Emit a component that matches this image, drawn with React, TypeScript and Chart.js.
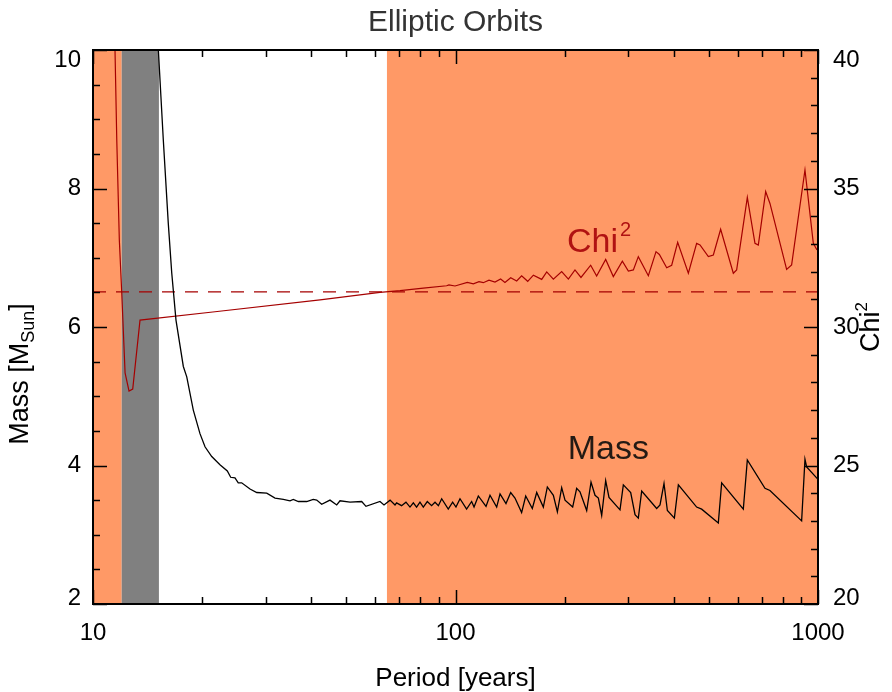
import React, { useEffect, useRef } from "react";
import { Chart, registerables } from "chart.js";

Chart.register(...registerables);

const FONT = "'Liberation Sans', Arial, Helvetica, sans-serif";

// ---------------- data ----------------
const massPeriods = [
  15.0, 15.63, 16.13, 16.49, 16.94, 17.75, 18.14, 18.91, 19.73, 20.37, 21.26, 22.40, 23.47, 23.98, 24.64, 25.16, 25.71,
  27.11, 28.29, 30.15, 31.78, 33.50, 34.95, 35.69, 36.85, 38.86, 40.52, 41.41, 42.74, 45.06, 47.02, 48.02, 51.17, 55.11,
  56.63, 61.9, 63.5, 66.0, 68.1, 68.8, 71.0, 73.0, 74.9, 76.5, 78.1, 79.8, 81.5, 83.6, 85.9, 87.8, 89.7, 91.6, 95.5, 98.2,
  100.3, 102.9, 107.3, 110.8, 112.5, 115.6, 121.4, 124.5, 129.9, 132.7, 137.8, 142.0, 145.9, 152.2, 156.2, 162.9, 167.5,
  174.7, 179.2, 186.2, 191.0, 196.3, 200.5, 210.5, 215.9, 220.5, 230.1, 236.5, 242.6, 247.8, 253.1, 259.6, 265.1, 284.3,
  290.4, 304.3, 312.8, 319.4, 326.3, 358.9, 366.6, 376.0, 384.1, 401.6, 411.9, 462.6, 477.6, 530.9, 542.3, 622.3, 638.3,
  714.0, 737.0, 901.3, 920.6, 930.4, 1000,
];
const massValues = [
  10.4, 8.70, 7.50, 6.78, 6.10, 5.43, 5.28, 4.80, 4.46, 4.27, 4.13, 4.01, 3.92, 3.83, 3.82, 3.75, 3.75,
  3.66, 3.61, 3.60, 3.53, 3.51, 3.49, 3.51, 3.48, 3.48, 3.51, 3.50, 3.44, 3.50, 3.43, 3.49, 3.47, 3.48,
  3.41, 3.48, 3.43, 3.50, 3.43, 3.46, 3.42, 3.47, 3.40, 3.46, 3.40, 3.47, 3.40, 3.48, 3.42, 3.47, 3.42, 3.52, 3.37, 3.47,
  3.40, 3.52, 3.37, 3.48, 3.40, 3.56, 3.41, 3.57, 3.40, 3.59, 3.45, 3.61, 3.53, 3.32, 3.56, 3.38, 3.61,
  3.40, 3.69, 3.57, 3.33, 3.68, 3.50, 3.40, 3.67, 3.62, 3.35, 3.76, 3.57, 3.53, 3.28, 3.78, 3.54, 3.36,
  3.72, 3.61, 3.29, 3.24, 3.63, 3.38, 3.43, 3.74, 3.35, 3.24, 3.72, 3.40, 3.37, 3.17, 3.75, 3.37, 4.08,
  3.67, 3.64, 3.20, 4.09, 3.98, 3.80,
];

const chiPeriods = [
  11.3, 11.50, 11.63, 11.82, 12.00, 12.26, 12.57, 12.87, 13.48, 21.7, 42.3, 61.9, 70.3, 81.5, 94.5, 95.9, 99.7,
  107.8, 112.0, 116.1, 119.3, 123.7, 128.5, 133.2, 136.9, 142.0, 147.5, 152.2, 158.2, 164.0, 172.9, 178.5, 186.2,
  196.3, 204.8, 213.6, 221.9, 236.0, 245.1, 259.6, 272.5, 288.6, 299.8, 309.5, 319.4, 340.4, 357.4, 365.1, 382.5,
  394.8, 410.1, 438.9, 462.6, 472.6, 498.3, 514.4, 538.8, 584.0, 596.5, 638.3, 670.1, 684.5, 717.2, 737.0, 819.3,
  845.7, 920.6, 970.7, 991.5, 1000,
];
const chiValues = [
  45, 40.0, 36.75, 33.14, 31.27, 28.34, 27.69, 27.76, 30.25, 30.55, 30.98, 31.25, 31.31, 31.40, 31.49, 31.52, 31.48,
  31.61, 31.56, 31.64, 31.60, 31.69, 31.62, 31.73, 31.61, 31.78, 31.66, 31.85, 31.65, 31.87, 31.72, 31.99, 31.73,
  32.00, 31.73, 32.06, 31.79, 32.23, 31.84, 32.44, 31.82, 32.38, 32.02, 32.06, 32.54, 31.85, 32.72, 32.62, 32.14,
  32.23, 33.06, 31.94, 33.02, 32.96, 32.54, 32.60, 33.53, 31.94, 32.06, 34.68, 33.02, 32.96, 34.89, 34.46, 32.08,
  32.24, 35.67, 33.02, 32.80, 32.84,
];
const chiThreshold = 31.27;

// shaded period bands
const bandFrom = [10, 12.0, 64.7];
const bandTo = [12.0, 15.2, 1000];
const bandKinds = ["excluded", "gap", "excluded"];

// axes
const periodRange = [10, 1000];
const massRange = [2, 10];
const chiRange = [20, 40];
const periodTickLabels = [10, 100, 1000];
const periodMinorTicks = [20, 30, 40, 50, 60, 70, 80, 90, 200, 300, 400, 500, 600, 700, 800, 900];
const massTicks = [2, 4, 6, 8, 10];
const massMinorTicks = [2.5, 3, 3.5, 4.5, 5, 5.5, 6.5, 7, 7.5, 8.5, 9, 9.5];
const chiTicks = [20, 25, 30, 35, 40];
const chiMinorTicks = [21, 22, 23, 24, 26, 27, 28, 29, 31, 32, 33, 34, 36, 37, 38, 39];

// label anchors (data coordinates)
const chiLabelAt = [203, 32.71];
const massLabelAt = [204, 4.09];

// ---------------- styles ----------------
const STYLE = {
  bands: { excluded: "#FF9966", gap: "#808080" } as Record<string, string>,
  chi: "#A50000",
  mass: "#000000",
  chiLabel: "#B01212",
  massLabel: "#231a14",
  title: "#333333",
};

export default function App() {
  const ref = useRef<HTMLCanvasElement>(null);

  useEffect(() => {
    const canvas = ref.current!;

    const overlay = {
      id: "idlOverlay",
      beforeDatasetsDraw(chart: any) {
        const { ctx, chartArea: a, scales } = chart;
        const xs = scales.x;
        ctx.save();
        for (let i = 0; i < bandFrom.length; i++) {
          const x0 = xs.getPixelForValue(bandFrom[i]);
          const x1 = xs.getPixelForValue(bandTo[i]);
          ctx.fillStyle = STYLE.bands[bandKinds[i]];
          ctx.fillRect(x0, a.top, x1 - x0, a.bottom - a.top);
        }
        ctx.restore();
      },
      afterDraw(chart: any) {
        const { ctx, chartArea: a, scales } = chart;
        const xs = scales.x, ys = scales.y, y2 = scales.y2;
        ctx.save();
        // ticks (inward)
        ctx.strokeStyle = "#000";
        ctx.lineWidth = 1.5;
        const MAJ = 14, MIN = 7;
        const vtick = (v: number, len: number) => {
          const px = Math.round(xs.getPixelForValue(v)) + 0.5;
          ctx.beginPath();
          ctx.moveTo(px, a.bottom); ctx.lineTo(px, a.bottom - len);
          ctx.moveTo(px, a.top); ctx.lineTo(px, a.top + len);
          ctx.stroke();
        };
        periodTickLabels.forEach((v) => vtick(v, MAJ));
        periodMinorTicks.forEach((v) => vtick(v, MIN));
        const ltick = (v: number, len: number) => {
          const py = Math.round(ys.getPixelForValue(v)) + 0.5;
          ctx.beginPath(); ctx.moveTo(a.left, py); ctx.lineTo(a.left + len, py); ctx.stroke();
        };
        massTicks.forEach((v) => ltick(v, MAJ));
        massMinorTicks.forEach((v) => ltick(v, MIN));
        const rtick = (v: number, len: number) => {
          const py = Math.round(y2.getPixelForValue(v)) + 0.5;
          ctx.beginPath(); ctx.moveTo(a.right, py); ctx.lineTo(a.right - len, py); ctx.stroke();
        };
        chiTicks.forEach((v) => rtick(v, MAJ));
        chiMinorTicks.forEach((v) => rtick(v, MIN));

        // frame
        ctx.lineWidth = 2;
        ctx.strokeRect(a.left, a.top, a.right - a.left, a.bottom - a.top);

        // y tick labels (end labels kept inside the frame height, as in the original)
        ctx.fillStyle = "#000";
        ctx.font = `24px ${FONT}`;
        ctx.textBaseline = "middle";
        const clampY = (p: number) => Math.min(Math.max(p, a.top + 10), a.bottom - 6);
        ctx.textAlign = "right";
        massTicks.forEach((v) => ctx.fillText(String(v), a.left - 12, clampY(ys.getPixelForValue(v))));
        ctx.textAlign = "left";
        chiTicks.forEach((v) => ctx.fillText(String(v), a.right + 15, clampY(y2.getPixelForValue(v))));

        // title
        const cx = (a.left + a.right) / 2;
        ctx.fillStyle = STYLE.title;
        ctx.textAlign = "center";
        ctx.textBaseline = "alphabetic";
        ctx.font = `30px ${FONT}`;
        ctx.fillText("Elliptic Orbits", cx, 31);

        // x-axis title
        ctx.fillStyle = "#000";
        ctx.font = `26px ${FONT}`;
        ctx.fillText("Period [years]", cx, 686);

        const drawRich = (parts: [string, number, number][], x: number, y: number) => {
          ctx.textAlign = "left";
          let total = 0;
          parts.forEach(([t, s]) => { ctx.font = `${s}px ${FONT}`; total += ctx.measureText(t).width; });
          let pos = x - total / 2;
          parts.forEach(([t, s, d]) => {
            ctx.font = `${s}px ${FONT}`;
            ctx.fillText(t, pos, y + d);
            pos += ctx.measureText(t).width;
          });
        };
        ctx.save();
        ctx.translate(28, 374);
        ctx.rotate(-Math.PI / 2);
        drawRich([["Mass [M", 27, 0], ["Sun", 18, 6], ["]", 27, 0]], 0, 0);
        ctx.restore();

        ctx.save();
        ctx.translate(879, 327);
        ctx.rotate(-Math.PI / 2);
        drawRich([["Chi", 27, 0], ["2", 17, -12]], 0, 0);
        ctx.restore();

        // in-plot labels
        ctx.fillStyle = STYLE.chiLabel;
        const cxp = xs.getPixelForValue(chiLabelAt[0]);
        const cyp = y2.getPixelForValue(chiLabelAt[1]);
        ctx.textAlign = "left";
        ctx.font = `34px ${FONT}`;
        ctx.fillText("Chi", cxp, cyp);
        const cw = ctx.measureText("Chi").width;
        ctx.font = `20px ${FONT}`;
        ctx.fillText("2", cxp + cw + 2, cyp - 16);

        ctx.fillStyle = STYLE.massLabel;
        ctx.font = `34px ${FONT}`;
        ctx.fillText("Mass", xs.getPixelForValue(massLabelAt[0]), ys.getPixelForValue(massLabelAt[1]));
        ctx.restore();
      },
    };

    const tickFont = { family: FONT, size: 24 };

    const chart = new Chart(canvas, {
      type: "line",
      data: {
        datasets: [
          {
            label: "Mass",
            data: massPeriods.map((p, i) => ({ x: p, y: massValues[i] })),
            yAxisID: "y",
            borderColor: STYLE.mass,
            borderWidth: 1.3,
            pointRadius: 0,
            tension: 0,
            clip: 0,
          },
          {
            label: "Chi2",
            data: chiPeriods.map((p, i) => ({ x: p, y: chiValues[i] })),
            yAxisID: "y2",
            borderColor: STYLE.chi,
            borderWidth: 1.2,
            pointRadius: 0,
            tension: 0,
            clip: 0,
          },
          {
            label: "Chi2 threshold",
            data: [
              { x: periodRange[0], y: chiThreshold },
              { x: periodRange[1], y: chiThreshold },
            ],
            yAxisID: "y2",
            borderColor: STYLE.chi,
            borderWidth: 1.2,
            borderDash: [13, 10],
            pointRadius: 0,
            clip: 0,
          },
        ],
      },
      options: {
        responsive: false,
        animation: false,
        devicePixelRatio: 1,
        layout: { padding: { top: 50, left: 0, right: 0, bottom: 0 } },
        plugins: { legend: { display: false }, title: { display: false }, tooltip: { enabled: false } },
        scales: {
          x: {
            type: "logarithmic",
            position: "bottom",
            min: periodRange[0],
            max: periodRange[1],
            grid: { display: false, drawTicks: false },
            border: { display: false },
            ticks: { font: tickFont, color: "#000", padding: 15, maxRotation: 0, autoSkip: false, callback: (v: any) => String(v) },
            afterBuildTicks: (s: any) => { s.ticks = periodTickLabels.map((v) => ({ value: v })); },
            afterFit: (s: any) => { s.height = 88; },
          },
          y: {
            type: "linear",
            position: "left",
            min: massRange[0],
            max: massRange[1],
            grid: { display: false, drawTicks: false },
            border: { display: false },
            ticks: { display: false },
            afterBuildTicks: (s: any) => { s.ticks = massTicks.map((v) => ({ value: v })); },
            afterFit: (s: any) => { s.width = 93; },
          },
          y2: {
            type: "linear",
            position: "right",
            min: chiRange[0],
            max: chiRange[1],
            grid: { display: false, drawTicks: false },
            border: { display: false },
            ticks: { display: false },
            afterBuildTicks: (s: any) => { s.ticks = chiTicks.map((v) => ({ value: v })); },
            afterFit: (s: any) => { s.width = 74; },
          },
        },
      },
      plugins: [overlay],
    } as any);

    return () => chart.destroy();
  }, []);

  return (
    <div style={{ position: "absolute", left: 0, top: 0, width: 892, height: 692, background: "#fff" }}>
      <canvas ref={ref} width={892} height={692} style={{ width: 892, height: 692, display: "block" }} />
    </div>
  );
}
